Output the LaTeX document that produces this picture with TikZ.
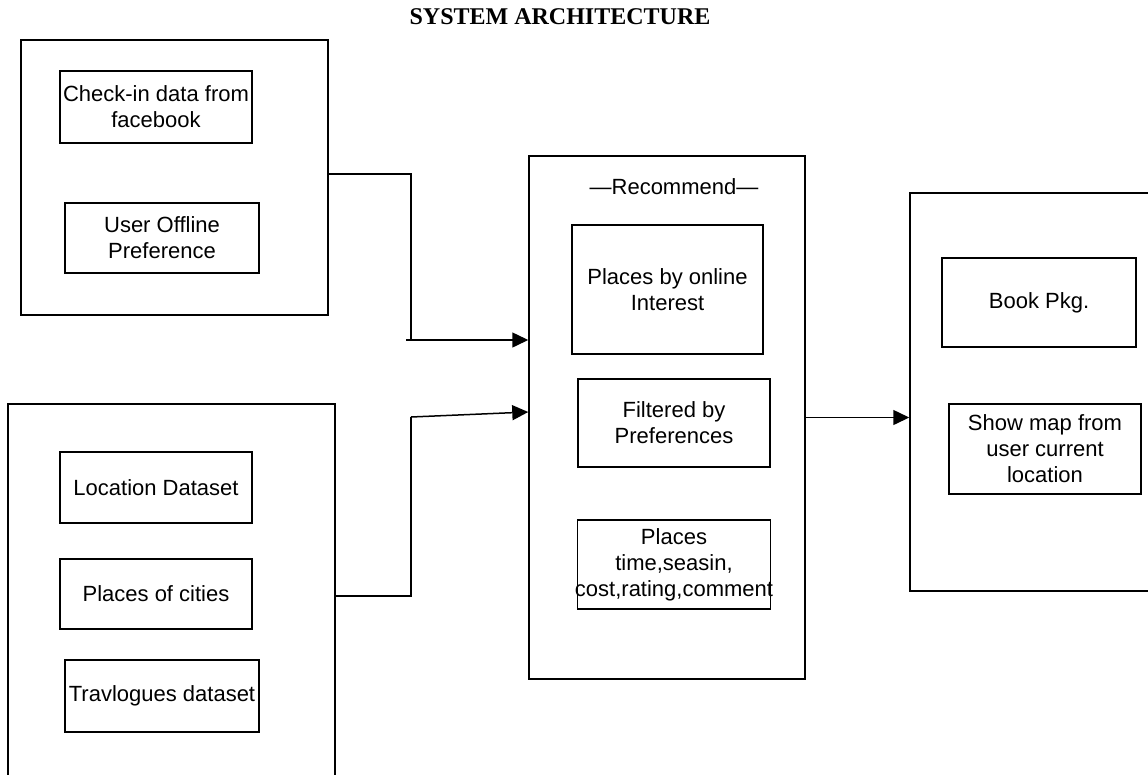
\documentclass[tikz,border=0pt]{standalone}
\usepackage{fontspec}
\setmainfont{Liberation Sans}
\newfontfamily\titlefont{Liberation Serif}
\usetikzlibrary{arrows.meta,calc}
\tikzstyle{frame}=[rectangle, draw=black, line width=1.5pt, inner sep=0pt, anchor=center]
\tikzstyle{box}=[rectangle, draw=black, line width=1.4pt, inner sep=0pt, align=center, anchor=center, font=\fontsize{22}{26}\selectfont]
\tikzstyle{annot}=[align=center, inner sep=0pt, font=\fontsize{22}{26}\selectfont]
\tikzstyle{link}=[line width=1.5pt]
\tikzstyle{arrow}=[link, -{Triangle[length=16pt,width=15pt]}]

\begin{document}
\begin{tikzpicture}[x=1pt,y=-1pt]
	\clip (0,0) rectangle (1148,774);
	\fill[white] (0,0) rectangle (1148,774);

	\node[annot, font=\titlefont\bfseries\fontsize{24}{28}\selectfont] (title) at (560,17) {SYSTEM ARCHITECTURE};

	% outer frames
	\node[frame, minimum width=307pt, minimum height=275pt] (social) at (174.5,177.5) {};
	\node[frame, minimum width=327pt, minimum height=396pt] (datasets) at (171.5,602) {};
	\node[frame, minimum width=276pt, minimum height=523pt] (recommend) at (667,417.5) {};
	\node[frame, minimum width=250pt, minimum height=398pt] (output) at (1035,392) {};

	% inputs
	\node[box, minimum width=192pt, minimum height=72pt] (checkin) at (156,107) {Check-in data from\\facebook};
	\node[box, minimum width=194pt, minimum height=70pt] (offline) at (162,238) {User Offline\\Preference};
	\node[box, minimum width=192pt, minimum height=71pt] (locds) at (156,487.5) {Location Dataset};
	\node[box, minimum width=192pt, minimum height=70pt] (cities) at (156,594) {Places of cities};
	\node[box, minimum width=194pt, minimum height=72pt] (travl) at (162,696) {Travlogues dataset};

	% recommend
	\node[annot] (reclabel) at (674,187) {—Recommend—};
	\node[box, minimum width=191pt, minimum height=129pt] (online) at (667.5,289.5) {Places by online\\Interest};
	\node[box, minimum width=192pt, minimum height=88pt] (filt) at (674,423) {Filtered by\\Preferences};
	\node[box, minimum width=192pt, minimum height=89pt, inner xsep=-2.5pt] (ptime) at (674,564.5) {Places\\time,seasin,\\cost,rating,comment};

	% output
	\node[box, minimum width=194pt, minimum height=89pt] (book) at (1039,302.5) {Book Pkg.};
	\node[box, minimum width=192pt, minimum height=90pt] (showmap) at (1045,449) {Show map from\\user current\\location};

	% connectors
	\coordinate (j1) at (411,340);
	\coordinate (j2) at (411,417);
	\draw[link] (social.east |- 0,174) -| (j1);
	\draw[arrow] ($(j1)+(-5,0)$) -- (recommend.west |- j1);
	\draw[link] (datasets.east |- 0,596) -| (j2);
	\draw[arrow] (j2) -- (recommend.west |- 0,412);
	\draw[arrow] (recommend.east) -- (recommend.east -| output.west);

\end{tikzpicture}
\end{document}
